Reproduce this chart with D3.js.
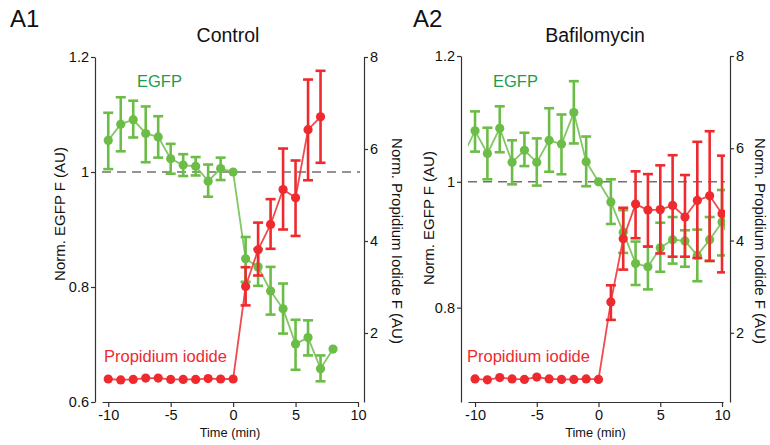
<!DOCTYPE html>
<html>
<head>
<meta charset="utf-8">
<script src="https://cdn.jsdelivr.net/npm/d3@7"></script>
<style>
  body { margin: 0; background: #fff; }
  svg { font-family: "Liberation Sans", Arial, sans-serif; }
</style>
</head>
<body>
<svg id="chart" width="770" height="445"></svg>
<script>
// A1 - Control
const egfpTimeA1 = [-10, -9, -8, -7, -6, -5, -4, -3, -2, -1, 0, 1, 2, 3, 4, 5, 6, 7, 8];
const egfpA1 = [1.055, 1.083, 1.091, 1.067, 1.061, 1.023, 1.012, 1.010, 0.984, 1.006, 1.000, 0.849, 0.835, 0.793, 0.762, 0.701, 0.712, 0.658, 0.692];
const egfpHiA1 = [1.103, 1.130, 1.124, 1.114, 1.097, 1.049, 1.031, 1.026, 1.013, 1.025, null, 0.887, 0.866, 0.835, 0.806, 0.743, 0.742, 0.681, null];
const egfpLoA1 = [1.005, 1.036, 1.060, 1.017, 1.025, 0.997, 0.993, 0.994, 0.957, 0.986, null, 0.809, 0.802, 0.752, 0.719, 0.656, 0.681, 0.636, null];

const piTimeA1 = [-10, -9, -8, -7, -6, -5, -4, -3, -2, -1, 0, 1, 2, 3, 4, 5, 6, 7];
const piA1 = [1.0, 0.98, 0.99, 1.02, 1.02, 0.99, 0.99, 0.99, 1.01, 1.0, 1.0, 3.01, 3.81, 4.36, 5.12, 4.94, 6.42, 6.70];
const piHiA1 = [null, null, null, null, null, null, null, null, null, null, null, 3.43, 4.40, 4.91, 6.01, 5.75, 7.51, 7.70];
const piLoA1 = [null, null, null, null, null, null, null, null, null, null, null, 2.60, 3.25, 3.83, 4.25, 4.11, 5.32, 5.70];

// A2 - Bafilomycin (first and last points run off the axis and get clipped)
const egfpTimeA2 = [-11, -10, -9, -8, -7, -6, -5, -4, -3, -2, -1, 0, 1, 2, 3, 4, 5, 6, 7, 8, 9, 10, 11];
const egfpA2 = [1.041, 1.081, 1.045, 1.085, 1.031, 1.050, 1.031, 1.066, 1.060, 1.110, 1.032, 1.000, 0.968, 0.920, 0.870, 0.865, 0.895, 0.908, 0.906, 0.883, 0.908, 0.936, 0.890];
const egfpHiA2 = [null, 1.112, 1.086, 1.120, 1.066, 1.078, 1.069, 1.117, 1.107, 1.160, 1.072, null, 1.004, 0.955, 0.905, 0.897, 0.935, 0.944, 0.923, 0.924, 0.944, 0.987, null];
const egfpLoA2 = [null, 1.048, 1.004, 1.047, 0.996, 1.025, 0.994, 1.016, 1.012, 1.061, 0.993, null, 0.933, 0.887, 0.836, 0.829, 0.857, 0.870, 0.865, 0.842, 0.874, 0.883, null];

const piTimeA2 = [-10, -9, -8, -7, -6, -5, -4, -3, -2, -1, 0, 1, 2, 3, 4, 5, 6, 7, 8, 9, 10, 11];
const piA2 = [1.0, 0.98, 1.03, 1.0, 0.99, 1.04, 1.0, 0.99, 0.99, 1.0, 0.99, 2.67, 4.04, 4.79, 4.66, 4.67, 4.76, 4.51, 4.87, 4.97, 4.58, 4.76];
const piHiA2 = [null, null, null, null, null, null, null, null, null, null, null, 3.03, 4.71, 5.50, 5.44, 5.63, 5.85, 5.42, 6.14, 6.37, 5.84, null];
const piLoA2 = [null, null, null, null, null, null, null, null, null, null, null, 2.28, 3.37, 4.05, 3.87, 3.72, 3.65, 3.65, 3.62, 3.56, 3.31, null];

const xTicks = [-10, -5, 0, 5, 10];
const leftTicksA1 = [0.6, 0.8, 1, 1.2];
const leftTicksA2 = [0.8, 1, 1.2];
const rightTicks = [2, 4, 6, 8];

const GREEN = '#6cbd48';
const GREEN_TXT = '#1c9d4c';
const RED = '#ee2a2f';
const AXIS = '#333';

const svg = d3.select('#chart');

function toRows(t, m, hi, lo) {
    return t.map((d, i) => ({ t: d, v: m[i], hi: hi[i], lo: lo[i] }));
}

function drawSeries(g, rows, x, y, color, clipId) {
    const sg = g.append('g').attr('clip-path', `url(#${clipId})`);
    const line = d3.line().x(d => x(d.t)).y(d => y(d.v));
    sg.append('path')
        .datum(rows)
        .attr('d', line)
        .attr('fill', 'none')
        .attr('stroke', color)
        .attr('stroke-opacity', 0.85)
        .attr('stroke-width', 1.8);
    const eb = rows.filter(d => d.hi != null);
    const bars = sg.append('g')
        .attr('stroke', color)
        .attr('stroke-width', 2.6);
    bars.selectAll('line.v').data(eb).join('line')
        .attr('x1', d => x(d.t)).attr('x2', d => x(d.t))
        .attr('y1', d => y(d.hi)).attr('y2', d => y(d.lo));
    bars.selectAll('line.top').data(eb).join('line')
        .attr('x1', d => x(d.t) - 5).attr('x2', d => x(d.t) + 5)
        .attr('y1', d => y(d.hi)).attr('y2', d => y(d.hi));
    bars.selectAll('line.bot').data(eb).join('line')
        .attr('x1', d => x(d.t) - 5).attr('x2', d => x(d.t) + 5)
        .attr('y1', d => y(d.lo)).attr('y2', d => y(d.lo));
    sg.selectAll('circle').data(rows).join('circle')
        .attr('cx', d => x(d.t)).attr('cy', d => y(d.v))
        .attr('r', 4.6)
        .attr('fill', color);
}

function styleAxis(ag) {
    ag.selectAll('path.domain').attr('stroke', AXIS).attr('stroke-width', 1.2);
    ag.selectAll('.tick line').attr('stroke', AXIS).attr('stroke-width', 1.2);
    ag.selectAll('.tick text').attr('fill', '#111').attr('font-size', 14.5)
        .attr('font-family', '"Liberation Sans", Arial, sans-serif');
}

function drawPanel(p) {
    const g = svg.append('g');
    const x = d3.scaleLinear().domain(p.xDomain).range([p.x0, p.x1]);
    const yL = d3.scaleLinear().domain(p.leftDomain).range([402, p.top]);
    const yR = d3.scaleLinear().domain([0.5, 8]).range([402, p.top]);

    // clip
    svg.append('clipPath').attr('id', p.clip)
        .append('rect').attr('x', p.x0).attr('y', 0).attr('width', p.x1 - p.x0 + 2).attr('height', 445);

    // panel letter + title
    g.append('text').attr('x', p.letterX).attr('y', 27).attr('font-size', 24).attr('fill', '#111').text(p.letter);
    g.append('text').attr('x', p.titleX).attr('y', 42).attr('font-size', 19.5).attr('fill', '#111')
        .attr('text-anchor', 'middle').text(p.title);

    // axes
    const ax = g.append('g').attr('transform', 'translate(0,402)')
        .call(d3.axisBottom(x).tickValues(xTicks).tickSize(5).tickSizeOuter(0).tickPadding(3).tickFormat(d => String(d)));
    styleAxis(ax);
    const al = g.append('g').attr('transform', `translate(${p.leftX},0)`)
        .call(d3.axisLeft(yL).tickValues(p.leftTicks).tickSize(4).tickSizeOuter(0).tickPadding(2).tickFormat(d => d === 1 ? '1' : d3.format('.1f')(d)));
    styleAxis(al);
    const ar = g.append('g').attr('transform', `translate(${p.rightX},0)`)
        .call(d3.axisRight(yR).tickValues(rightTicks).tickSize(4).tickSizeOuter(0).tickPadding(2).tickFormat(d => String(d)));
    styleAxis(ar);

    // axis labels
    g.append('text').attr('x', (p.x0 + p.x1) / 2).attr('y', 437).attr('text-anchor', 'middle')
        .attr('font-size', 12.8).attr('fill', '#111').text('Time (min)');
    g.append('text').attr('transform', `translate(${p.leftLabelX},${p.leftLabelY}) rotate(-90)`)
        .attr('text-anchor', 'middle').attr('font-size', 15).attr('fill', '#111').text('Norm. EGFP F (AU)');
    g.append('text').attr('transform', `translate(${p.rightLabelX},241) rotate(90)`)
        .attr('text-anchor', 'middle').attr('font-size', 15).attr('fill', '#111').text('Norm. Propidium Iodide F (AU)');

    // baseline at 1
    g.append('line')
        .attr('x1', p.x0).attr('x2', p.x1 + 2)
        .attr('y1', yL(1)).attr('y2', yL(1))
        .attr('stroke', '#707070').attr('stroke-width', 1.5).attr('stroke-dasharray', '9,6');

    drawSeries(g, p.egfp, x, yL, GREEN, p.clip);
    drawSeries(g, p.pi, x, yR, RED, p.clip);

    g.append('text').attr('x', p.egfpLabelX).attr('y', 87).attr('font-size', 16.5).attr('fill', GREEN_TXT).text('EGFP');
    g.append('text').attr('x', p.piLabelX).attr('y', 362).attr('font-size', 16.5).attr('fill', RED).text('Propidium iodide');
}

drawPanel({
    letter: 'A1', letterX: 10, title: 'Control', titleX: 228, clip: 'clipA1',
    xDomain: [-10.5, 10], x0: 102, x1: 358, leftX: 95, rightX: 364, top: 57,
    leftDomain: [0.6, 1.2], leftTicks: leftTicksA1,
    leftLabelX: 65, leftLabelY: 214, rightLabelX: 392,
    egfpLabelX: 137, piLabelX: 104,
    egfp: toRows(egfpTimeA1, egfpA1, egfpHiA1, egfpLoA1),
    pi: toRows(piTimeA1, piA1, piHiA1, piLoA1)
});

drawPanel({
    letter: 'A2', letterX: 413, title: 'Bafilomycin', titleX: 595, clip: 'clipA2',
    xDomain: [-10.57, 10.08], x0: 468, x1: 723, leftX: 461, rightX: 730, top: 56,
    leftDomain: [0.65, 1.2], leftTicks: leftTicksA2,
    leftLabelX: 434, leftLabelY: 218, rightLabelX: 755,
    egfpLabelX: 493, piLabelX: 467,
    egfp: toRows(egfpTimeA2, egfpA2, egfpHiA2, egfpLoA2),
    pi: toRows(piTimeA2, piA2, piHiA2, piLoA2)
});
</script>
</body>
</html>
